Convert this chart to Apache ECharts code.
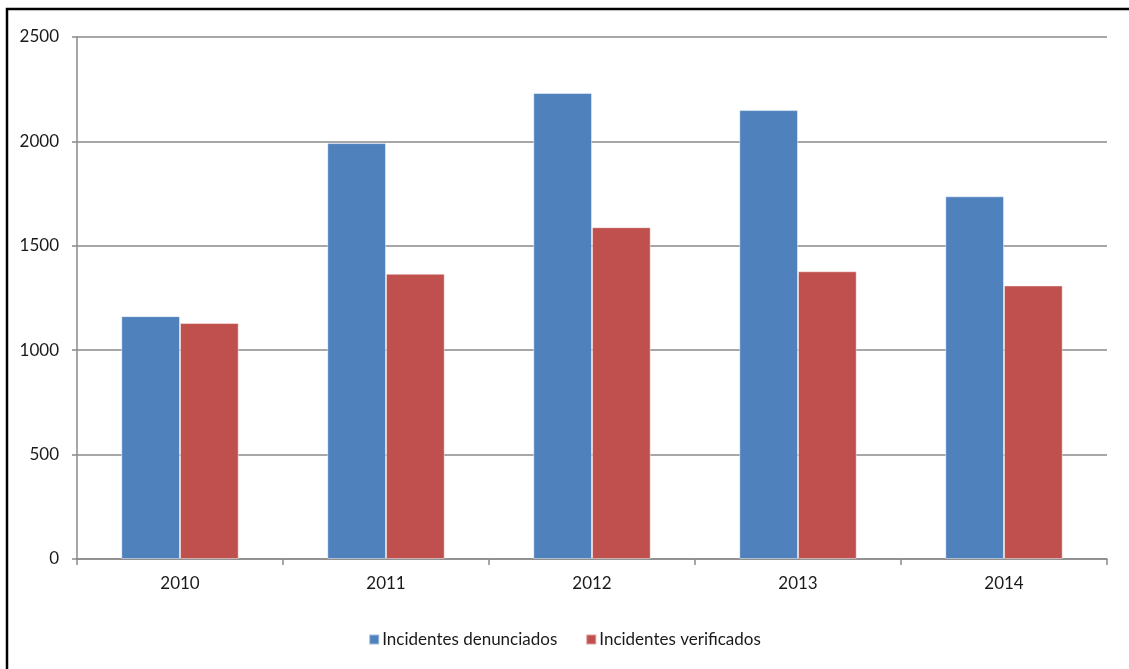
<!DOCTYPE html>
<html>
<head>
<meta charset="utf-8">
<script src="https://cdn.jsdelivr.net/npm/echarts@6/dist/echarts.min.js"></script>
<style>
html, body { margin: 0; padding: 0; background: #fff; }
#chart { width: 1129px; height: 669px; }
</style>
</head>
<body>
<div id="chart"></div>
<script>
var years = ['2010', '2011', '2012', '2013', '2014'];
var denunciados = [1163, 1992, 2232, 2150, 1737];
var verificados = [1130, 1366, 1589, 1378, 1310];
var seriesNames = ['Incidentes denunciados', 'Incidentes verificados'];

var chart = echarts.init(document.getElementById('chart'));
var fontFamily = 'Lato, "Open Sans", sans-serif';
var gridColor = '#8a8a8a';

var option = {
	animation: false,
	color: ['#4F81BD', '#C0504D'],
	textStyle: { fontFamily: fontFamily },
	graphic: [{
		type: 'rect',
		shape: { x: 7, y: 9, width: 1300, height: 800 },
		style: { fill: 'none', stroke: '#000', lineWidth: 2.5 },
		silent: true
	}],
	legend: {
		data: seriesNames,
		bottom: 16,
		left: 'center',
		itemWidth: 10,
		itemHeight: 10,
		itemGap: 28,
		icon: 'rect',
		textStyle: { fontSize: 17, color: '#1a1a1a', fontFamily: fontFamily, padding: [0, 0, 0, -2] }
	},
	grid: {
		left: 77,
		right: 22,
		top: 37,
		bottom: 110
	},
	xAxis: {
		type: 'category',
		data: years,
		axisLine: { lineStyle: { color: gridColor, width: 1.5 } },
		axisTick: { show: true, length: 6, lineStyle: { color: gridColor, width: 1.5 } },
		axisLabel: { fontSize: 17, color: '#1a1a1a', margin: 16, fontFamily: fontFamily }
	},
	yAxis: {
		type: 'value',
		min: 0,
		max: 2500,
		interval: 500,
		axisLine: { show: true, lineStyle: { color: gridColor, width: 1.5 } },
		axisTick: { show: true, length: 5, lineStyle: { color: gridColor, width: 1.5 } },
		axisLabel: {
			fontSize: 17, color: '#1a1a1a', margin: 18, fontFamily: fontFamily,
			formatter: function(value) {
				return String(value);
			}
		},
		splitLine: { show: true, lineStyle: { color: gridColor, width: 1.5 } }
	},
	series: [{
		name: seriesNames[0],
		type: 'bar',
		data: denunciados,
		barGap: '0%',
		barCategoryGap: '43%',
		itemStyle: { borderColor: 'rgba(255,255,255,0.45)', borderWidth: 1 }
	}, {
		name: seriesNames[1],
		type: 'bar',
		data: verificados,
		barGap: '0%',
		barCategoryGap: '43%',
		itemStyle: { borderColor: 'rgba(255,255,255,0.45)', borderWidth: 1 }
	}]
};
chart.setOption(option);
</script>
</body>
</html>
